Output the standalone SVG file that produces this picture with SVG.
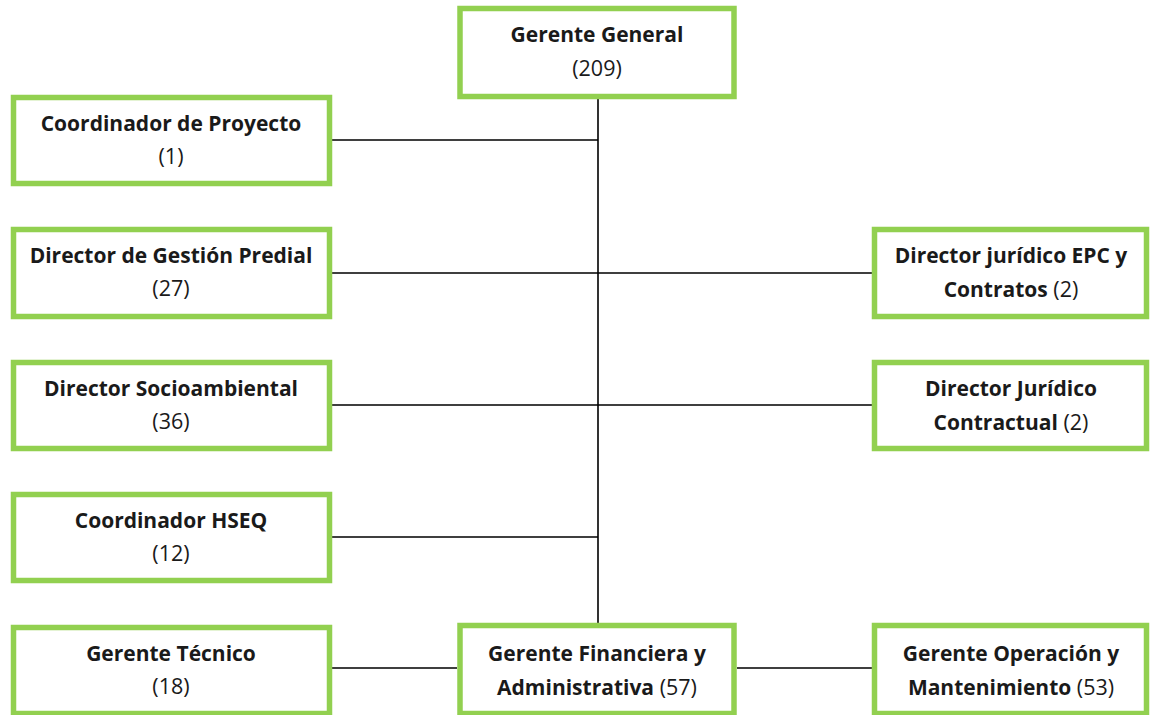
<svg xmlns="http://www.w3.org/2000/svg" width="1151" height="715" viewBox="0 0 1151 715">
<style>
.box{fill:#fff;stroke:#92D050;stroke-width:5.5}
.ln{stroke:#000;stroke-width:1.6;fill:none}
text{font-family:"Open Sans",Lato,"Liberation Sans",sans-serif;font-size:21.5px;fill:#1a1a1a;text-anchor:middle}
.b{font-weight:bold;font-size:21px}
</style>
<rect width="1151" height="715" fill="#fff"/>
<g id="connectors">
<path class="ln" d="M598 99V623M332 140H598M332 273H872M332 405H872M332 537H598M332 668H457M737 668H872"/>
</g>
<g id="gerente-general"><rect class="box" x="460" y="8.5" width="274" height="88"/><text x="597" y="42" class="b">Gerente General</text><text x="597" y="76">(209)</text></g>
<g id="coordinador-proyecto"><rect class="box" x="13.5" y="97.5" width="316" height="86"/><text x="171" y="131" class="b">Coordinador de Proyecto</text><text x="171" y="164">(1)</text></g>
<g id="director-gestion-predial"><rect class="box" x="13.5" y="229.5" width="316" height="87"/><text x="171" y="263" class="b">Director de Gestión Predial</text><text x="171" y="296">(27)</text></g>
<g id="director-socioambiental"><rect class="box" x="13.5" y="362.5" width="316" height="86"/><text x="171" y="396" class="b">Director Socioambiental</text><text x="171" y="429">(36)</text></g>
<g id="coordinador-hseq"><rect class="box" x="13.5" y="494.5" width="316" height="86"/><text x="171" y="528" class="b">Coordinador HSEQ</text><text x="171" y="561">(12)</text></g>
<g id="gerente-tecnico"><rect class="box" x="13.5" y="627.5" width="316" height="86"/><text x="171" y="661" class="b">Gerente Técnico</text><text x="171" y="694">(18)</text></g>
<g id="director-juridico-epc"><rect class="box" x="874.5" y="229.5" width="272" height="87"/><text x="1011" y="263" class="b">Director jurídico EPC y</text><text x="1011" y="297"><tspan class="b">Contratos</tspan> (2)</text></g>
<g id="director-juridico-contractual"><rect class="box" x="874.5" y="362.5" width="272" height="86"/><text x="1011" y="396" class="b">Director Jurídico</text><text x="1011" y="430"><tspan class="b">Contractual</tspan> (2)</text></g>
<g id="gerente-financiera"><rect class="box" x="460" y="625.5" width="274" height="88"/><text x="597" y="661" class="b">Gerente Financiera y</text><text x="597" y="695"><tspan class="b">Administrativa</tspan> (57)</text></g>
<g id="gerente-operacion"><rect class="box" x="874.5" y="625.5" width="272" height="88"/><text x="1011" y="661" class="b">Gerente Operación y</text><text x="1011" y="695"><tspan class="b">Mantenimiento</tspan> (53)</text></g>
</svg>
